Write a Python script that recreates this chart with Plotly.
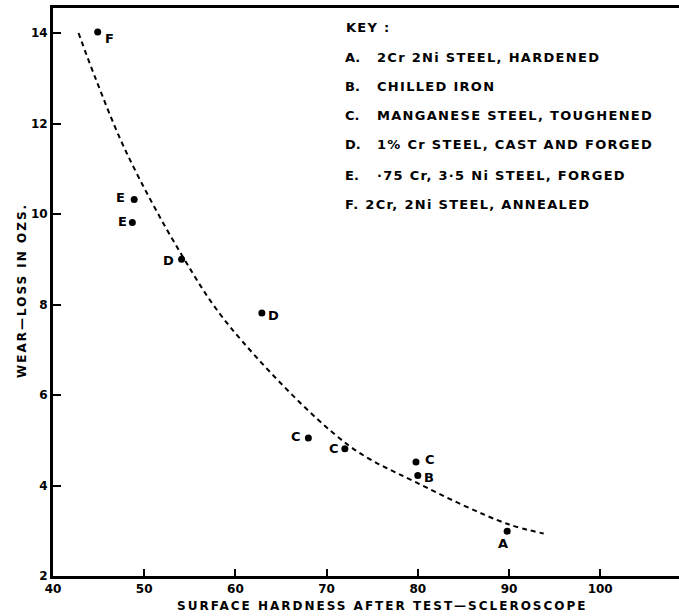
import plotly.graph_objects as go

# Wear trial results: surface hardness after test (scleroscope) vs wear-loss (oz)
material_codes = ["A", "B", "C", "C", "C", "D", "D", "E", "E", "F"]
hardness = [89.8, 80.0, 68.0, 72.0, 79.8, 54.1, 62.9, 48.9, 48.7, 44.9]
wear_loss = [2.99, 4.22, 5.05, 4.81, 4.52, 9.0, 7.81, 10.32, 9.81, 14.02]

# Freehand trend curve drawn through the results
curve_hardness = [42.8, 44.6, 48.1, 54.1, 59.4, 72.2, 79.7, 89.7, 93.8]
curve_wear = [14.0, 13.03, 11.34, 9.1, 7.51, 4.92, 4.08, 3.16, 2.94]

# Key to the material codes
key_codes = ["A.", "B.", "C.", "D.", "E."]
key_materials = [
    "2Cr 2Ni STEEL, HARDENED",
    "CHILLED IRON",
    "MANGANESE STEEL, TOUGHENED",
    "1% Cr STEEL, CAST AND FORGED",
    "·75 Cr, 3·5 Ni STEEL, FORGED",
]
key_last_line = "F. 2Cr, 2Ni STEEL, ANNEALED"

x_ticks = [40, 50, 60, 70, 80, 90, 100]
y_ticks = [2, 4, 6, 8, 10, 12, 14]

# label placement around each dot (pixels right, pixels down)
label_offsets = [(-4, 12), (11, 2), (-12, -1), (-11, 0), (14, -2),
                 (-13, 1), (12, 2), (-14, -2), (-10, -1), (12, 6)]

W, H = 679, 616
PL, PT, PW, PH = 53, 8, 626, 568

FONT = "DejaVu Sans"
INK = "black"


def px(x):
    return (x - PL) / PW


def py(y):
    return (PT + PH - y) / PH


fig = go.Figure()

fig.add_trace(go.Scatter(
    x=curve_hardness, y=curve_wear, mode="lines",
    line=dict(color=INK, width=2, dash="5px,4px", shape="spline", smoothing=1.0),
    hoverinfo="skip", showlegend=False,
))

fig.add_trace(go.Scatter(
    x=hardness, y=wear_loss, mode="markers",
    marker=dict(color=INK, size=7),
    text=material_codes, showlegend=False,
))

annotations = []
for code, hx, wy, (dx, dy) in zip(material_codes, hardness, wear_loss, label_offsets):
    annotations.append(dict(
        x=hx, y=wy, xref="x", yref="y", text=code, showarrow=False,
        xshift=dx, yshift=-dy, xanchor="center", yanchor="middle",
        font=dict(family=FONT, size=13, color=INK, weight="bold"),
    ))

key_font = dict(family=FONT, size=13, color=INK, weight="bold")
key_rows = [57, 86, 115, 145, 175]
annotations.append(dict(
    x=px(344), y=py(27), xref="paper", yref="paper", text="KEY :",
    showarrow=False, xanchor="left", yanchor="middle", align="left", font=key_font,
))
for code, desc, row in zip(key_codes, key_materials, key_rows):
    annotations.append(dict(
        x=px(343), y=py(row), xref="paper", yref="paper", text=code,
        showarrow=False, xanchor="left", yanchor="middle", align="left", font=key_font,
    ))
    annotations.append(dict(
        x=px(375), y=py(row), xref="paper", yref="paper", text=desc,
        showarrow=False, xanchor="left", yanchor="middle", align="left", font=key_font,
    ))
annotations.append(dict(
    x=px(343), y=py(204), xref="paper", yref="paper", text=key_last_line,
    showarrow=False, xanchor="left", yanchor="middle", align="left", font=key_font,
))

# axis titles
title_font = dict(family=FONT, size=12, color=INK, weight="bold")
annotations.append(dict(
    x=px(382), y=py(606), xref="paper", yref="paper",
    text="SURFACE HARDNESS AFTER TEST—SCLEROSCOPE", showarrow=False,
    xanchor="center", yanchor="middle", font=title_font,
))
annotations.append(dict(
    x=px(22), y=py(291), xref="paper", yref="paper",
    text="WEAR—LOSS IN OZS.", showarrow=False, textangle=-90,
    xanchor="center", yanchor="middle", font=title_font,
))

tick_font = dict(family=FONT, size=12, color=INK, weight="bold")

fig.update_layout(
    width=W, height=H,
    margin=dict(l=PL, r=W - PL - PW, t=PT, b=H - PT - PH, pad=0),
    paper_bgcolor="white", plot_bgcolor="white",
    showlegend=False,
    annotations=annotations,
    xaxis=dict(
        range=[40, 40 + PW / 9.12], tickvals=x_ticks, ticktext=[str(v) for v in x_ticks],
        ticks="inside", ticklen=7, tickwidth=1.5, tickcolor=INK,
        showline=True, linecolor=INK, linewidth=3, mirror=True,
        showgrid=False, zeroline=False, tickfont=tick_font,
    ),
    yaxis=dict(
        range=[2, 2 + PH / 45.25], tickvals=y_ticks, ticktext=[str(v) for v in y_ticks],
        ticks="inside", ticklen=8, tickwidth=2, tickcolor=INK,
        showline=True, linecolor=INK, linewidth=3,
        showgrid=False, zeroline=False, tickfont=tick_font,
    ),
)

# widen the tracking of the longer lettering (key rows and axis titles)
tracking_js = """
var gd = document.getElementById('{plot_id}');
function applyTracking() {
  gd.querySelectorAll('.annotation-text').forEach(function (t) {
    if (t.textContent.length > 2) {
      var big = parseFloat(t.style.fontSize) >= 13;
      t.style.letterSpacing = big ? '1.3px' : '2px';
    }
  });
}
applyTracking();
setTimeout(applyTracking, 0);
if (gd.on) { gd.on('plotly_afterplot', applyTracking); }
"""

fig.write_html("out.html", post_script=tracking_js)
